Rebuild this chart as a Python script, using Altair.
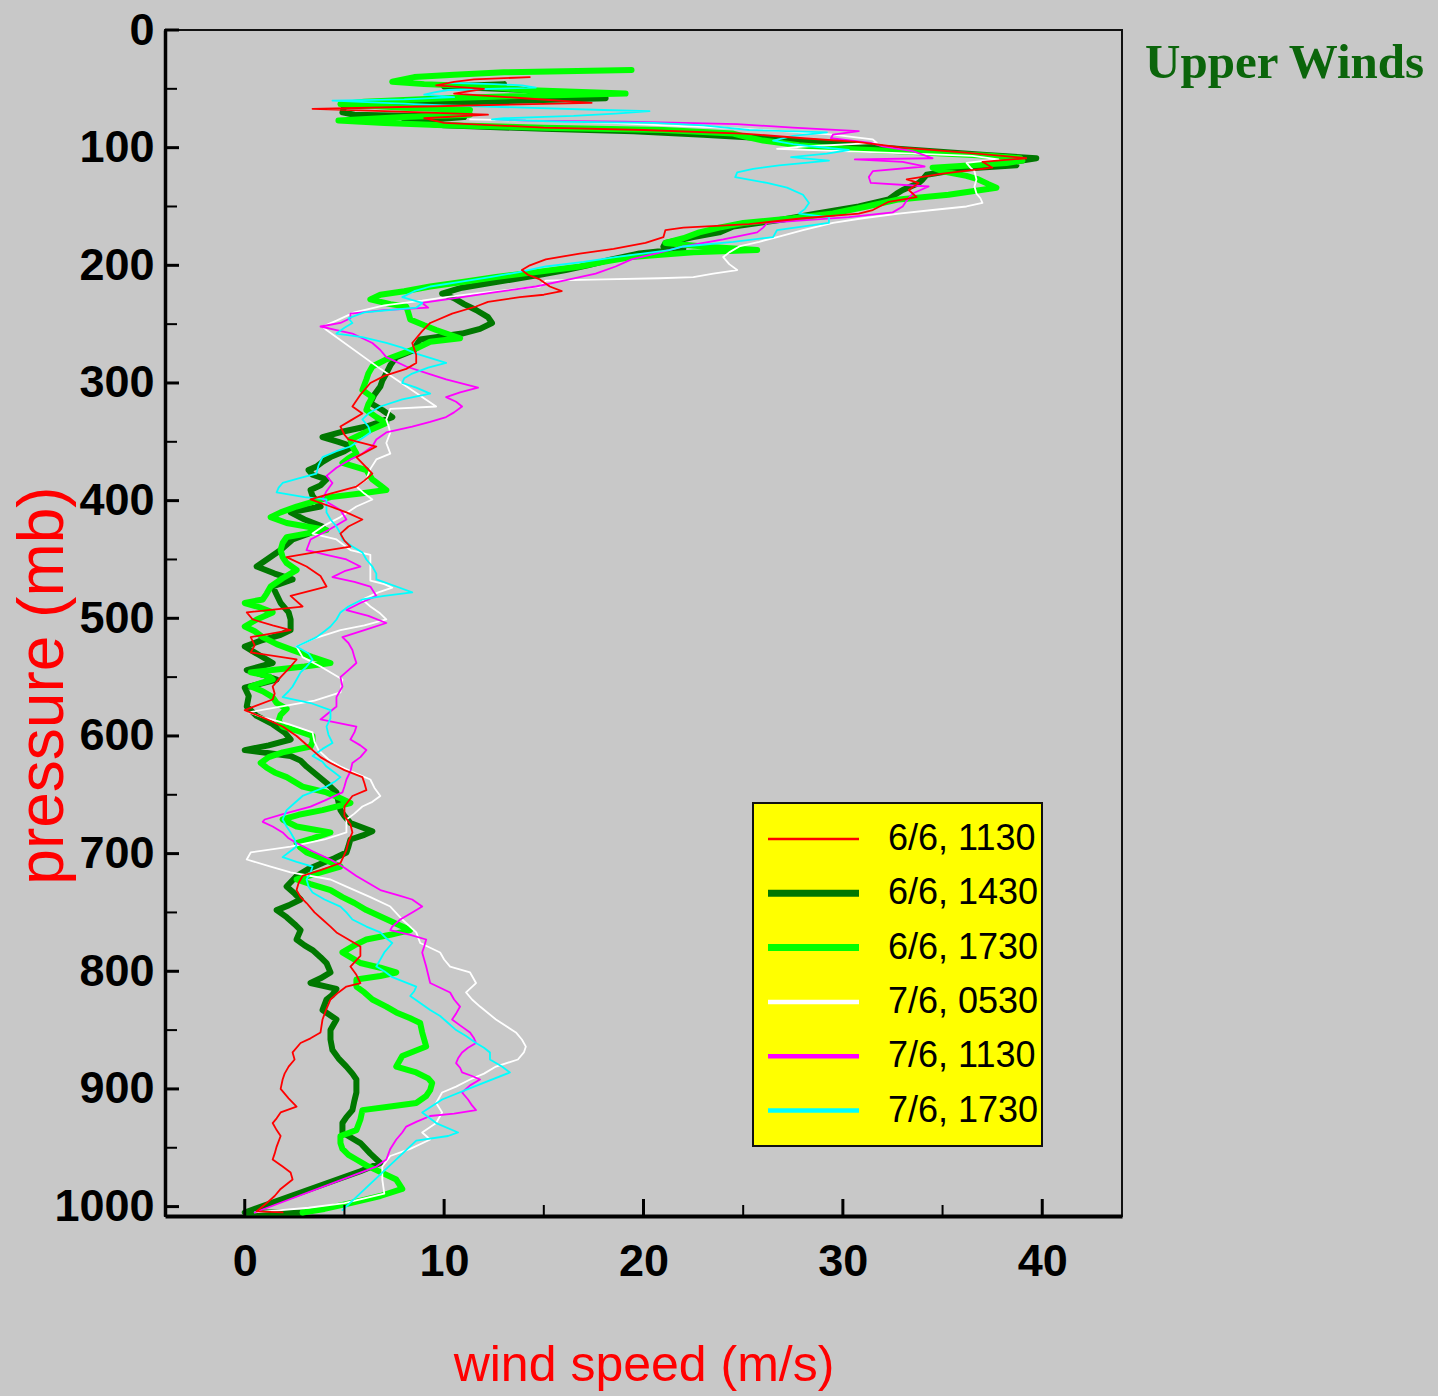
import altair as alt
import pandas as pd

# ---- radiosonde wind profiles: (pressure mb, wind speed m/s), top to surface ----
s0606_1130 = [
    (40, 14.3), (42, 11.5), (44, 10.5), (47, 9.6), (50, 12.0), (54, 10.5), (58, 14.0), (62, 17.4),
    (65, 9.0), (67, 3.4), (69, 7.0), (72, 12.2), (75, 9.0), (79, 10.0), (83, 15.0), (85, 20.0),
    (88, 25.0), (92, 28.0), (95, 30.7), (100, 33.0), (104, 36.0), (107, 38.0), (109, 39.2), (112, 37.0),
    (117, 37.5), (122, 35.0), (127, 33.2), (130, 33.8), (136, 33.3), (142, 33.7), (146, 32.3), (153, 31.5),
    (156, 30.8), (160, 28.0), (165, 25.3), (168, 22.0), (170, 21.1), (176, 21.0), (181, 20.1), (186, 18.5),
    (190, 16.8), (195, 15.1), (200, 14.3), (204, 13.9), (208, 14.2), (212, 14.8), (218, 15.3), (222, 15.9),
    (225, 15.0), (227, 13.8), (231, 12.2), (235, 11.6), (241, 10.4), (249, 9.3), (256, 8.9), (266, 8.4),
    (276, 8.6), (283, 8.6), (288, 8.1), (294, 7.0), (300, 6.3), (310, 5.8), (320, 5.4), (326, 5.9),
    (332, 5.3), (337, 4.8), (344, 5.0), (348, 5.2), (354, 6.6), (363, 5.6), (370, 6.0), (377, 6.4),
    (383, 6.0), (388, 5.6), (394, 4.3), (399, 3.3), (405, 4.3), (410, 5.1), (416, 5.9), (422, 5.2),
    (428, 4.8), (434, 5.0), (439, 5.3), (444, 3.5), (448, 2.1), (456, 3.1), (464, 3.8), (473, 4.1),
    (481, 2.3), (490, 2.9), (495, 0.1), (501, 0.4), (506, 1.4), (510, 2.3), (516, 0.3), (523, 0.5),
    (529, 0.3), (535, 2.6), (541, 2.3), (550, 1.8), (558, 1.4), (564, 1.5), (569, 1.4), (578, 0.0),
    (585, 1.0), (592, 1.9), (600, 2.6), (606, 3.0), (612, 3.4), (618, 3.8), (623, 4.3), (629, 5.0),
    (635, 5.9), (640, 6.0), (646, 6.1), (651, 5.4), (660, 5.0), (668, 5.0), (675, 5.3), (682, 5.4),
    (690, 5.2), (697, 5.1), (708, 4.8), (714, 3.8), (719, 2.9), (725, 2.7), (731, 2.6), (737, 2.8),
    (742, 3.1), (750, 3.5), (756, 3.9), (762, 4.3), (767, 4.6), (773, 5.2), (779, 5.8), (787, 5.8),
    (796, 5.3), (803, 5.6), (810, 5.8), (813, 5.1), (818, 4.7), (824, 4.3), (832, 4.1), (841, 3.9),
    (852, 3.8), (857, 3.3), (861, 2.8), (869, 2.4), (875, 2.5), (881, 2.2), (887, 2.0), (892, 1.9),
    (900, 1.8), (908, 2.2), (915, 2.6), (920, 1.8), (925, 1.6), (929, 1.4), (935, 1.6), (940, 1.8),
    (949, 1.6), (955, 1.5), (960, 1.4), (966, 1.9), (971, 2.3), (977, 2.4), (985, 1.8), (991, 1.5),
    (997, 1.1), (1004, 0.6), (1005, 1.9),
]

s0606_1430 = [
    (46, 13.0), (48, 10.0), (51, 14.1), (56, 15.0), (58, 18.1), (61, 12.0), (65, 5.0), (70, 4.9),
    (72, 5.5), (74, 11.0), (78, 8.0), (81, 10.0), (84, 15.0), (86, 19.5), (89, 23.0), (93, 27.0),
    (96, 29.5), (100, 32.0), (103, 34.5), (106, 37.0), (109, 39.7), (112, 38.6), (115, 38.7), (118, 36.0),
    (123, 34.2), (127, 34.0), (130, 33.8), (136, 33.0), (139, 32.7), (144, 32.3), (150, 30.8), (156, 28.7),
    (161, 27.0), (167, 24.5), (172, 23.8), (176, 22.5), (181, 21.1), (184, 21.0), (186, 22.0), (190, 19.8),
    (195, 18.4), (200, 17.2), (204, 16.1), (208, 14.8), (212, 13.4), (216, 12.0), (219, 10.9), (224, 9.9),
    (228, 10.5), (233, 11.0), (238, 11.6), (244, 12.2), (249, 12.4), (254, 11.8), (258, 10.9), (263, 8.8),
    (268, 8.6), (272, 8.5), (278, 7.6), (285, 7.3), (292, 7.1), (298, 6.9), (303, 6.8), (310, 6.5),
    (317, 6.3), (323, 6.9), (329, 7.4), (333, 6.8), (337, 6.1), (341, 5.0), (346, 3.9), (350, 4.7),
    (354, 5.4), (358, 5.0), (363, 4.3), (367, 3.9), (371, 3.6), (374, 3.2), (378, 3.4), (382, 4.1),
    (387, 3.8), (391, 3.3), (396, 3.4), (405, 3.8), (410, 2.3), (416, 3.0), (422, 3.9), (428, 3.2),
    (433, 2.4), (442, 1.8), (449, 1.2), (456, 0.6), (462, 1.5), (467, 2.4), (473, 1.4), (480, 1.6),
    (487, 1.8), (495, 2.2), (501, 2.3), (510, 2.3), (514, 1.8), (519, 0.8), (524, 0.0), (531, 0.7),
    (538, 1.4), (544, 0.1), (548, 0.9), (552, 1.6), (559, 0.0), (566, 0.2), (575, 0.1), (583, 0.6),
    (590, 1.4), (597, 2.0), (603, 2.3), (608, 1.2), (612, 0.0), (617, 2.3), (621, 2.8), (626, 3.1),
    (633, 3.6), (640, 4.1), (648, 4.6), (656, 4.7), (663, 4.8), (668, 5.0), (674, 5.3), (681, 6.4),
    (684, 6.0), (688, 5.3), (694, 5.2), (699, 5.1), (704, 4.5), (708, 3.9), (713, 3.2), (719, 2.6),
    (728, 2.1), (734, 2.5), (739, 2.8), (744, 2.2), (748, 1.6), (754, 2.1), (760, 2.5), (765, 2.8),
    (773, 2.6), (778, 3.0), (782, 3.4), (788, 3.8), (793, 4.1), (801, 4.3), (806, 3.8), (810, 3.3),
    (815, 4.6), (820, 4.4), (824, 4.1), (833, 3.9), (841, 4.6), (850, 4.3), (858, 4.3), (867, 4.4),
    (874, 4.7), (881, 5.1), (887, 5.4), (892, 5.6), (903, 5.6), (910, 5.5), (918, 5.4), (924, 5.1),
    (929, 4.9), (937, 4.9), (946, 5.8), (955, 6.3), (963, 6.8), (970, 5.8), (1005, 0.0), (1005, 2.9),
]

s0606_1730 = [
    (34, 19.4), (35, 16.0), (36, 13.0), (38, 10.5), (40, 8.5), (44, 7.4), (46, 9.0), (48, 12.0),
    (51, 14.0), (54, 19.1), (56, 14.0), (58, 10.0), (61, 6.0), (63, 4.8), (66, 8.0), (68, 11.3),
    (70, 10.0), (72, 11.3), (74, 8.0), (77, 4.7), (79, 7.0), (81, 10.0), (83, 15.0), (85, 21.0),
    (88, 24.5), (91, 25.2), (94, 26.0), (98, 27.8), (101, 30.0), (103, 32.8), (105, 35.0), (107, 37.5),
    (109, 38.9), (111, 39.0), (113, 38.2), (115, 36.5), (117, 34.5), (120, 35.0), (124, 36.2), (127, 36.8),
    (131, 37.3), (134, 37.7), (137, 36.5), (140, 35.3), (144, 32.8), (150, 31.2), (156, 29.5), (160, 27.5),
    (164, 25.0), (168, 23.8), (172, 22.8), (177, 22.0), (181, 21.1), (184, 23.0), (187, 25.7), (189, 22.5),
    (193, 19.4), (197, 18.0), (201, 16.8), (206, 14.5), (210, 12.6), (214, 11.0), (218, 9.3), (222, 8.0),
    (225, 6.8), (229, 6.3), (233, 7.3), (235, 8.1), (240, 8.2), (246, 8.3), (251, 9.0), (255, 9.6),
    (262, 10.8), (265, 9.3), (270, 8.7), (275, 7.9), (280, 7.1), (286, 6.4), (292, 6.2), (297, 6.1),
    (306, 5.9), (312, 6.4), (318, 6.2), (323, 6.1), (329, 6.6), (334, 7.1), (340, 6.3), (344, 5.8),
    (348, 5.3), (354, 5.4), (360, 5.6), (364, 5.2), (368, 4.9), (374, 6.1), (382, 6.4), (387, 6.8),
    (391, 7.1), (394, 5.8), (397, 4.3), (401, 3.4), (405, 2.6), (410, 1.8), (414, 1.3), (419, 2.1),
    (425, 4.1), (431, 2.1), (436, 1.9), (442, 1.8), (448, 1.9), (453, 2.1), (459, 2.6), (466, 1.9),
    (473, 1.3), (479, 1.1), (484, 0.9), (487, 0.0), (491, 0.8), (495, 1.4), (501, 0.6), (507, 0.0),
    (511, 0.5), (516, 0.9), (522, 1.6), (527, 2.4), (533, 3.4), (538, 4.3), (541, 3.0), (546, 0.3),
    (549, 1.2), (552, 1.4), (555, 0.8), (558, 0.3), (562, 0.9), (567, 1.4), (572, 1.6), (577, 2.1),
    (582, 1.8), (587, 1.7), (592, 1.9), (596, 2.7), (600, 3.4), (605, 3.4), (609, 3.3), (614, 1.9),
    (618, 1.2), (623, 0.8), (627, 1.1), (631, 1.5), (635, 2.1), (643, 2.9), (648, 4.1), (653, 4.8),
    (657, 5.3), (663, 3.9), (667, 2.7), (671, 1.9), (677, 2.6), (682, 4.3), (687, 3.4), (691, 2.6),
    (695, 2.8), (699, 3.1), (705, 4.0), (711, 4.8), (716, 3.8), (722, 2.6), (726, 3.3), (731, 4.3),
    (737, 4.9), (742, 5.5), (748, 6.1), (755, 7.0), (762, 7.9), (765, 8.3), (769, 7.3), (773, 6.1),
    (778, 5.5), (784, 4.9), (788, 5.3), (793, 5.8), (797, 6.8), (801, 7.6), (804, 6.8), (807, 5.6),
    (813, 5.6), (818, 6.0), (824, 6.4), (830, 7.1), (835, 7.6), (840, 8.3), (844, 8.8), (852, 8.9),
    (858, 9.0), (864, 9.1), (868, 8.5), (872, 7.9), (881, 7.6), (886, 8.6), (891, 9.2), (895, 9.4),
    (901, 9.3), (906, 9.1), (912, 8.6), (915, 7.3), (918, 5.9), (926, 5.8), (935, 5.6), (940, 4.8),
    (946, 4.8), (951, 4.9), (956, 5.2), (960, 5.6), (965, 6.1), (969, 6.6), (977, 7.6), (985, 7.9),
    (991, 6.8), (997, 5.3), (1002, 4.0), (1005, 2.9),
]

s0706_0530 = [
    (76, 11.3), (77, 14.2), (79, 18.4), (81, 21.0), (83, 24.0), (86, 27.0), (89, 29.5), (93, 31.5),
    (96, 31.7), (99, 28.0), (101, 26.7), (103, 30.0), (105, 33.5), (107, 36.5), (110, 37.8), (113, 36.2),
    (117, 36.4), (120, 36.6), (127, 36.7), (133, 36.6), (139, 36.7), (143, 36.9), (147, 37.0), (150, 36.2),
    (153, 34.5), (156, 32.8), (160, 31.0), (164, 29.5), (170, 28.0), (176, 26.7), (180, 25.8), (184, 24.8),
    (189, 24.3), (193, 24.0), (199, 24.3), (204, 24.7), (207, 23.5), (210, 22.5), (211, 20.8), (212, 18.0),
    (213, 15.1), (218, 14.8), (221, 13.1), (224, 11.5), (227, 10.1), (230, 8.9), (234, 7.0), (240, 5.5),
    (247, 4.6), (252, 3.9), (255, 4.1), (288, 6.8), (320, 9.6), (322, 7.3), (331, 7.1), (336, 7.2),
    (342, 7.3), (351, 7.1), (360, 7.3), (365, 6.6), (373, 6.3), (382, 6.1), (388, 5.6), (394, 6.0),
    (399, 6.4), (405, 5.6), (414, 4.8), (421, 4.0), (428, 3.4), (433, 4.6), (442, 5.3), (446, 6.3),
    (455, 6.3), (461, 6.3), (468, 6.3), (471, 7.0), (474, 7.4), (478, 6.7), (484, 5.9), (490, 6.3),
    (496, 6.8), (501, 7.1), (506, 6.0), (510, 4.8), (517, 3.5), (524, 2.6), (533, 2.9), (541, 3.8),
    (552, 4.9), (563, 4.8), (570, 3.5), (575, 1.8), (580, 0.2), (584, 0.9), (590, 2.2), (597, 3.4),
    (605, 3.5), (612, 3.7), (620, 4.2), (626, 4.8), (632, 5.6), (637, 6.3), (644, 6.5), (651, 6.8),
    (656, 6.4), (660, 5.9), (666, 5.5), (671, 5.1), (676, 5.1), (682, 5.1), (688, 4.0), (694, 2.3),
    (699, 0.3), (705, 0.1), (711, 1.3), (716, 2.3), (722, 4.3), (728, 5.1), (737, 6.3), (745, 7.3),
    (756, 7.9), (767, 8.6), (776, 8.8), (784, 9.8), (790, 10.0), (796, 10.3), (801, 11.3), (810, 11.6),
    (818, 11.1), (824, 11.4), (830, 11.8), (841, 12.6), (852, 13.6), (858, 13.9), (864, 14.1), (869, 14.0),
    (875, 13.7), (881, 12.6), (887, 12.0), (892, 11.3), (898, 10.6), (903, 9.9), (912, 9.6), (920, 9.9),
    (929, 9.6), (937, 8.9), (943, 9.3), (951, 8.3), (957, 7.3), (966, 6.9), (977, 6.9), (989, 7.0),
    (997, 5.0), (1001, 3.2), (1005, 0.5),
]

s0706_1130 = [
    (76, 12.6), (77, 14.1), (78, 19.0), (79, 22.0), (80, 24.7), (83, 27.5), (86, 30.8), (89, 29.5),
    (92, 29.4), (96, 31.4), (99, 32.0), (103, 33.5), (106, 34.0), (109, 34.5), (110, 30.6), (112, 33.0),
    (116, 34.1), (120, 31.5), (125, 31.3), (130, 31.4), (133, 34.3), (139, 33.5), (145, 33.2), (150, 33.0),
    (155, 32.5), (159, 30.3), (164, 26.2), (168, 26.0), (172, 25.7), (178, 24.0), (184, 22.0), (190, 20.6),
    (195, 19.4), (201, 18.6), (207, 17.6), (213, 16.0), (218, 14.6), (223, 12.5), (227, 10.9), (232, 8.9),
    (236, 9.2), (238, 7.0), (241, 5.3), (245, 5.3), (249, 4.8), (252, 3.8), (255, 4.6), (258, 5.4),
    (262, 5.9), (266, 6.4), (272, 6.8), (278, 7.1), (286, 8.1), (292, 9.2), (297, 10.1), (304, 11.7),
    (308, 10.8), (312, 10.1), (316, 10.6), (320, 10.9), (325, 10.5), (329, 10.1), (333, 9.3), (337, 8.4),
    (342, 7.1), (348, 6.6), (354, 6.4), (360, 5.9), (365, 5.3), (372, 4.6), (379, 4.1), (385, 4.4),
    (392, 4.1), (399, 3.9), (404, 4.4), (408, 4.8), (416, 5.1), (425, 4.2), (433, 3.3), (442, 3.1),
    (446, 4.1), (450, 5.1), (456, 5.8), (460, 5.0), (465, 4.4), (469, 5.5), (473, 6.3), (481, 6.6),
    (487, 5.8), (493, 5.1), (498, 6.2), (504, 7.1), (510, 6.0), (516, 4.9), (521, 5.2), (527, 5.4),
    (533, 5.5), (538, 5.6), (544, 5.2), (550, 4.8), (558, 4.9), (567, 4.6), (575, 4.6), (586, 3.8),
    (592, 5.6), (597, 5.5), (603, 5.3), (608, 5.8), (612, 6.1), (618, 5.8), (623, 5.4), (630, 5.3),
    (637, 5.1), (643, 5.0), (648, 4.9), (655, 4.0), (660, 3.3), (666, 2.0), (671, 1.0), (673, 0.9),
    (677, 1.4), (682, 1.9), (687, 2.2), (691, 2.6), (698, 3.4), (705, 4.3), (712, 5.0), (719, 5.6),
    (725, 6.2), (731, 6.8), (736, 7.8), (739, 8.4), (745, 8.9), (750, 8.4), (756, 7.8), (762, 7.4),
    (765, 7.3), (769, 8.3), (773, 9.1), (779, 9.0), (784, 8.9), (790, 9.0), (796, 9.1), (803, 9.2),
    (810, 9.3), (814, 9.8), (818, 10.3), (824, 10.5), (830, 10.8), (836, 10.6), (841, 10.4), (846, 10.8),
    (852, 11.3), (857, 11.5), (861, 11.6), (865, 11.2), (869, 10.9), (874, 10.7), (878, 10.6), (882, 10.8),
    (886, 10.9), (889, 11.4), (892, 11.8), (897, 11.3), (903, 10.9), (909, 11.2), (914, 11.4), (918, 11.6),
    (921, 10.5), (923, 9.3), (928, 8.6), (932, 8.1), (937, 7.9), (943, 7.6), (951, 7.3), (960, 7.1),
    (966, 6.6), (1005, 0.5),
]

s0706_1730 = [
    (45, 10.2), (46, 12.5), (47, 13.9), (49, 14.6), (51, 10.2), (53, 9.5), (55, 9.0), (57, 10.5),
    (59, 8.0), (60, 4.4), (62, 7.0), (64, 10.0), (66, 14.0), (68, 18.0), (69, 20.3), (71, 18.6),
    (73, 16.5), (75, 13.0), (76, 12.4), (78, 16.0), (79, 20.5), (81, 23.0), (85, 25.3), (87, 29.2),
    (90, 27.5), (94, 26.5), (97, 27.5), (99, 28.5), (102, 30.3), (105, 29.2), (108, 27.4), (111, 29.3),
    (115, 26.8), (118, 25.5), (121, 24.7), (125, 24.6), (130, 26.2), (134, 27.2), (140, 28.0), (147, 28.3),
    (152, 28.1), (156, 27.8), (159, 29.3), (164, 29.3), (170, 26.7), (176, 26.5), (180, 24.5), (184, 22.0),
    (187, 21.3), (193, 18.6), (197, 17.0), (201, 15.1), (206, 13.7), (210, 12.3), (214, 10.8), (218, 9.3),
    (222, 8.5), (227, 7.9), (232, 8.9), (236, 8.6), (240, 6.0), (245, 5.2), (249, 5.4), (253, 5.0),
    (258, 4.6), (261, 5.9), (266, 7.1), (270, 7.9), (275, 8.6), (283, 10.1), (287, 9.2), (292, 8.4),
    (296, 8.0), (300, 7.9), (304, 8.6), (309, 9.3), (314, 7.9), (320, 6.8), (326, 6.2), (331, 5.9),
    (337, 6.2), (342, 6.3), (348, 5.8), (354, 5.3), (358, 4.6), (363, 3.9), (370, 3.7), (377, 3.6),
    (381, 2.7), (385, 1.9), (389, 1.7), (393, 1.6), (397, 3.0), (399, 4.1), (405, 4.1), (410, 4.1),
    (416, 4.3), (422, 4.6), (428, 4.8), (433, 4.9), (439, 5.4), (444, 5.9), (450, 6.1), (456, 6.4),
    (462, 6.6), (467, 6.6), (473, 7.6), (478, 8.4), (481, 7.0), (484, 5.9), (490, 5.2), (495, 4.8),
    (501, 4.6), (507, 4.3), (511, 4.0), (516, 3.6), (520, 3.1), (524, 2.6), (530, 3.2), (535, 3.4),
    (541, 3.1), (546, 2.8), (552, 2.6), (558, 2.4), (562, 2.2), (567, 1.9), (572, 3.3), (578, 4.3),
    (585, 4.3), (592, 4.1), (599, 4.2), (606, 4.4), (611, 3.9), (617, 3.4), (622, 3.9), (626, 4.1),
    (631, 4.5), (635, 4.8), (639, 4.5), (643, 4.1), (647, 3.5), (651, 2.9), (657, 2.5), (663, 2.1),
    (671, 1.9), (677, 2.1), (682, 2.3), (688, 2.5), (694, 2.6), (699, 2.2), (703, 1.9), (707, 2.6),
    (711, 3.4), (716, 3.3), (722, 3.1), (728, 3.2), (733, 3.4), (739, 4.0), (745, 4.8), (750, 5.1),
    (756, 5.4), (762, 6.1), (767, 6.8), (772, 7.1), (776, 7.4), (780, 7.2), (784, 7.0), (790, 6.8),
    (796, 6.6), (800, 7.0), (805, 7.4), (809, 8.0), (813, 8.6), (817, 8.5), (821, 8.3), (827, 8.8),
    (833, 9.3), (838, 9.8), (844, 10.2), (850, 10.6), (855, 11.1), (861, 11.6), (865, 12.0), (869, 12.3),
    (875, 12.3), (878, 12.6), (881, 12.9), (886, 13.3), (898, 11.5), (909, 9.9), (920, 8.9), (929, 9.6),
    (937, 10.7), (940, 10.2), (944, 8.6), (1003, 4.9),
]

SERIES = ["6/6, 1130", "6/6, 1430", "6/6, 1730", "7/6, 0530", "7/6, 1130", "7/6, 1730"]
COLORS = ["#ff0000", "#007800", "#00ff00", "#ffffff", "#ff00ff", "#00ffff"]
PROFILES = dict(zip(SERIES, [s0606_1130, s0606_1430, s0606_1730, s0706_0530, s0706_1130, s0706_1730]))

THICK = [SERIES[1], SERIES[2]]
THIN = [SERIES[3], SERIES[4], SERIES[5], SERIES[0]]

Y_MAJOR = list(range(0, 1001, 100))
Y_MINOR = list(range(50, 1000, 100))
X_MAJOR = [0, 10, 20, 30, 40]
X_MINOR = [5, 15, 25, 35]

P_DOMAIN = [0, 1008]
WS_DOMAIN = [-4, 44]

SANS = "Liberation Sans, Arial, sans-serif"
SERIF = "Liberation Serif, Times New Roman, serif"

W, H = 957, 1186
# legend row layout (pixels inside the plot area)
LEG_TOP, LEG_STEP = 809, 54.3


def profile_frame(names):
    rows = []
    for name in names:
        for i, (p, w) in enumerate(PROFILES[name]):
            rows.append({"series": name, "idx": i, "pressure": p, "speed": w})
    return pd.DataFrame(rows)


x_scale = alt.Scale(domain=WS_DOMAIN, nice=False, zero=False)
y_scale = alt.Scale(domain=P_DOMAIN, reverse=True, nice=False, zero=False)
color_scale = alt.Scale(domain=SERIES, range=COLORS)

# every layer carries the same axis definition so the shared axes merge cleanly
x_axis = alt.Axis(
    values=X_MAJOR, format="d", ticks=False, grid=False,
    domainColor="black", domainWidth=4,
    labelFont=SANS, labelFontSize=45, labelFontWeight="bold", labelColor="black",
    labelPadding=23, labelOverlap=False, labelFlush=False,
    title="wind speed (m/s)", titleFont=SANS, titleFontSize=50, titleFontWeight="normal",
    titleColor="#ff0000", titleX=W / 2, titleY=164, titleAlign="center", titleBaseline="alphabetic",
)
y_axis = alt.Axis(
    values=Y_MAJOR, format="d", ticks=False, grid=False,
    domainColor="black", domainWidth=3.5,
    labelFont=SANS, labelFontSize=45, labelFontWeight="bold", labelColor="black",
    labelPadding=11, labelOverlap=False, labelFlush=False,
    title="pressure (mb)", titleFont=SANS, titleFontSize=64, titleFontWeight="normal",
    titleColor="#ff0000", titleAngle=270, titleX=-103, titleY=655, titleAlign="center",
    titleBaseline="alphabetic",
)


def profile_layer(names, width):
    return alt.Chart(profile_frame(names)).mark_line(
        strokeWidth=width, strokeJoin="round", strokeCap="round"
    ).encode(
        x=alt.X("speed:Q", scale=x_scale, axis=x_axis),
        y=alt.Y("pressure:Q", scale=y_scale, axis=y_axis),
        color=alt.Color("series:N", scale=color_scale, legend=None),
        detail="series:N",
        order=alt.Order("idx:Q"),
    )


thick_lines = profile_layer(THICK, 6)
thin_lines = profile_layer(THIN, 1.8)

# inward-pointing tick marks on the left and bottom axes
y_major_ticks = alt.Chart(pd.DataFrame({"p": Y_MAJOR})).mark_rule(color="black", strokeWidth=3).encode(
    y=alt.Y("p:Q", scale=y_scale, axis=y_axis), x=alt.value(0), x2=alt.value(14)
)
y_minor_ticks = alt.Chart(pd.DataFrame({"p": Y_MINOR})).mark_rule(color="black", strokeWidth=2).encode(
    y=alt.Y("p:Q", scale=y_scale, axis=y_axis), x=alt.value(0), x2=alt.value(12)
)
x_major_ticks = alt.Chart(pd.DataFrame({"w": X_MAJOR})).mark_rule(color="black", strokeWidth=3).encode(
    x=alt.X("w:Q", scale=x_scale, axis=x_axis), y=alt.value(H), y2=alt.value(H - 17)
)
x_minor_ticks = alt.Chart(pd.DataFrame({"w": X_MINOR})).mark_rule(color="black", strokeWidth=2).encode(
    x=alt.X("w:Q", scale=x_scale, axis=x_axis), y=alt.value(H), y2=alt.value(H - 11)
)

# legend: yellow box with one swatch and label per sounding
legend_base = alt.Chart(pd.DataFrame({"series": SERIES})).transform_window(
    row="row_number()"
).transform_calculate(
    ypix=f"{LEG_TOP} + (datum.row - 1) * {LEG_STEP}"
)
legend_box = alt.Chart(pd.DataFrame({"k": [0]})).mark_rect(
    fill="#ffff00", stroke="#111111", strokeWidth=2
).encode(x=alt.value(588), x2=alt.value(877), y=alt.value(773), y2=alt.value(1116))

legend_width = (
    alt.when((alt.datum.series == SERIES[1]) | (alt.datum.series == SERIES[2]))
    .then(alt.value(7))
    .when(alt.datum.series == SERIES[0])
    .then(alt.value(2.7))
    .otherwise(alt.value(4.5))
)
legend_lines = legend_base.mark_rule().encode(
    y=alt.Y("ypix:Q", scale=None),
    x=alt.value(603),
    x2=alt.value(694),
    color=alt.Color("series:N", scale=color_scale, legend=None),
    strokeWidth=legend_width,
)
legend_text = legend_base.mark_text(
    align="left", baseline="middle", font=SANS, fontSize=36, color="black"
).encode(y=alt.Y("ypix:Q", scale=None), x=alt.value(723), text="series:N")

title_text = alt.Chart(pd.DataFrame({"k": [0]})).mark_text(
    align="left", baseline="alphabetic", font=SERIF, fontWeight="bold", fontSize=49, color="#0b650b"
).encode(x=alt.value(980), y=alt.value(48), text=alt.value("Upper Winds"))

chart = (
    alt.layer(
        thick_lines, thin_lines,
        y_major_ticks, y_minor_ticks, x_major_ticks, x_minor_ticks,
        legend_box, legend_lines, legend_text, title_text,
    )
    .properties(
        width=W,
        height=H,
        background="#c8c8c8",
        autosize=alt.AutoSizeParams(type="none"),
        padding={"left": 165, "top": 30, "right": 1438 - 165 - W, "bottom": 1396 - 30 - H},
    )
    .configure_view(stroke="#111111", strokeWidth=2)
)

chart.save("out.html", embed_options={"renderer": "svg", "actions": False})
